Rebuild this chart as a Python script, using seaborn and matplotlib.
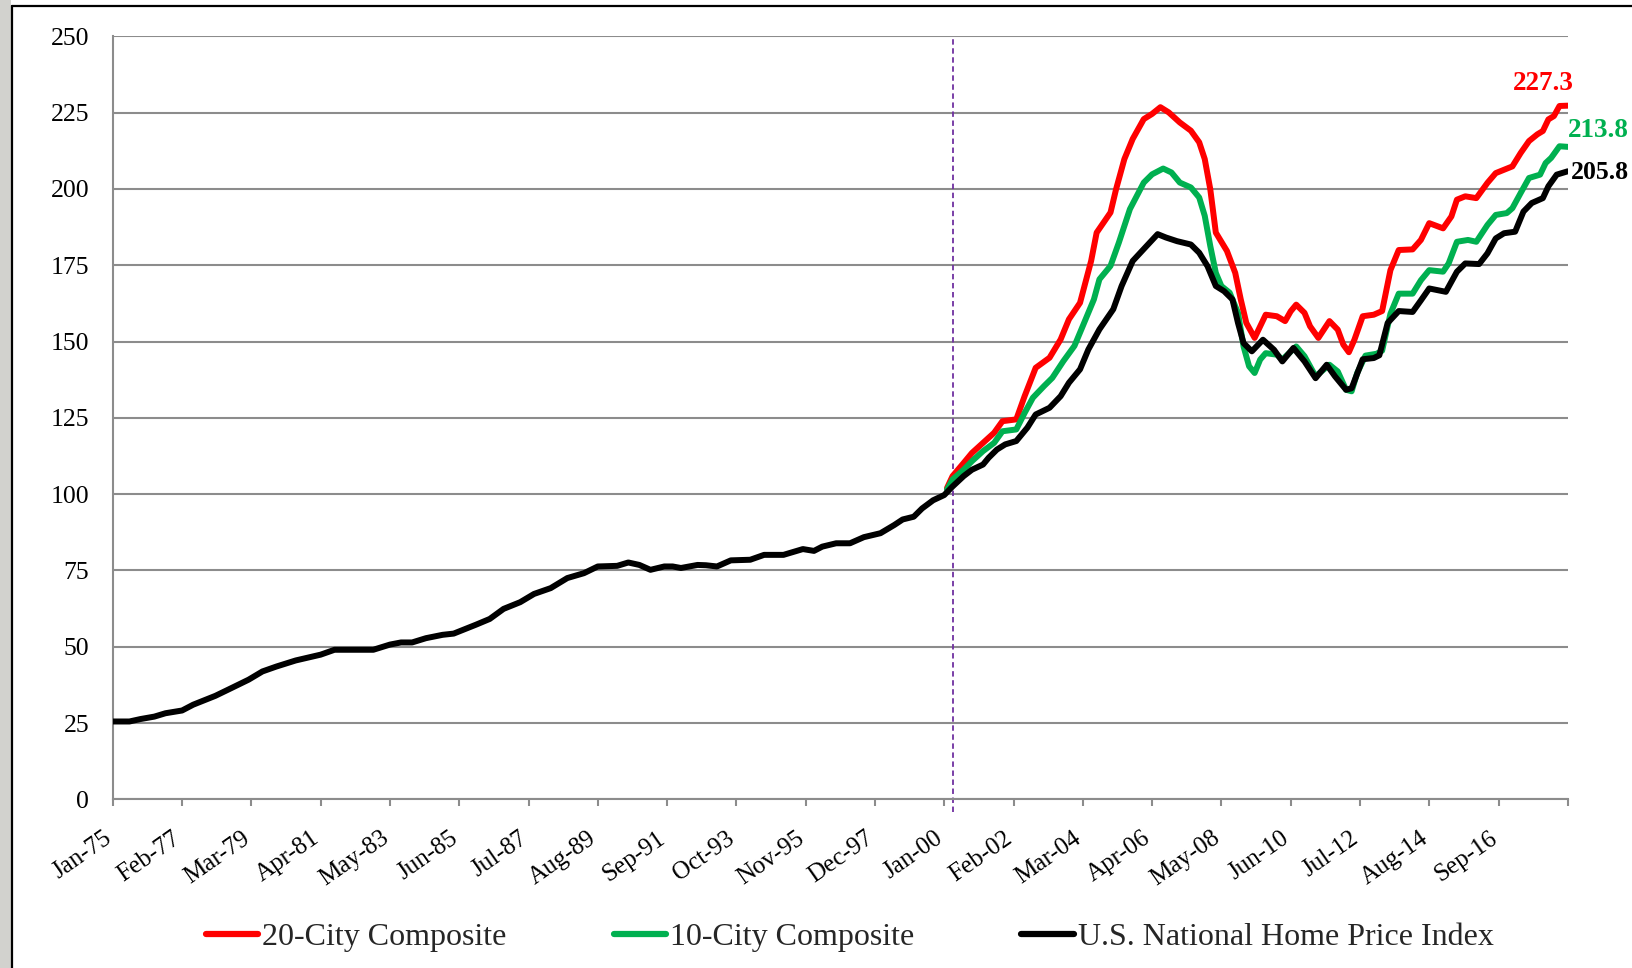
import matplotlib
matplotlib.use("Agg")
import matplotlib.pyplot as plt
import matplotlib.transforms as mtransforms
from matplotlib.lines import Line2D
from matplotlib.patches import Rectangle
import seaborn as sns

sns.set_theme(style="white")
plt.rcParams["font.family"] = ["Liberation Serif", "DejaVu Serif"]

# Months counted from Jan-1975, index level (Jan-2000 = 100)
nat_month = [0, 6, 10, 15, 19, 25, 29, 37, 42, 49, 54, 59, 66, 75, 80, 94, 100, 104, 108,
             113, 119, 123, 131, 136, 141, 147, 152, 158, 164, 170, 175, 182, 186, 190, 194,
             199, 202, 205, 211, 214, 218, 223, 230, 235, 242, 249, 253, 256, 261, 266, 271,
             277, 282, 285, 289, 292, 296, 300, 303, 307, 310, 314, 316, 319, 322, 326, 330,
             333, 338, 342, 345, 349, 352, 356, 361, 364, 368, 373, 377, 380, 384, 389, 392,
             395, 398, 401, 404, 406, 408, 411, 415, 419, 422, 426, 430, 434, 438, 441, 445,
             447, 451, 455, 457, 460, 464, 469, 472, 475, 481, 485, 488, 493, 496, 499, 502,
             506, 509, 512, 516, 518, 521, 525]
nat_value = [25.5, 25.5, 26.3, 27.1, 28.2, 29.1, 31.0, 33.9, 36.1, 39.2, 41.9, 43.5, 45.5,
             47.4, 49.0, 49.0, 50.7, 51.4, 51.4, 52.8, 53.9, 54.3, 57.2, 59.1, 62.4, 64.6,
             67.3, 69.2, 72.5, 74.1, 76.3, 76.5, 77.6, 76.8, 75.2, 76.3, 76.3, 75.8, 76.8,
             76.7, 76.3, 78.3, 78.5, 80.1, 80.1, 82.0, 81.4, 82.8, 83.9, 83.9, 85.9, 87.2,
             89.9, 91.7, 92.6, 95.3, 98.0, 99.7, 102.5, 105.9, 108.0, 109.7, 111.9, 114.6,
             116.3, 117.4, 121.8, 126.1, 128.3, 132.1, 136.5, 140.9, 147.4, 154.0, 160.6,
             168.2, 176.4, 181.3, 185.2, 184.1, 182.9, 181.8, 179.1, 174.7, 168.2, 166.5,
             163.8, 156.1, 149.5, 146.8, 150.6, 147.3, 143.5, 147.9, 143.5, 138.0, 142.4,
             138.6, 134.2, 134.7, 144.2, 144.6, 145.5, 156.1, 160.0, 159.7, 163.5, 167.4,
             166.3, 172.9, 175.6, 175.4, 178.9, 183.8, 185.5, 186.0, 192.6, 195.4, 197.0,
             200.9, 204.7, 205.8]

c20_month = [301, 303, 307, 310, 314, 318, 321, 326, 329, 333, 338, 342, 345, 349, 353, 355,
             360, 362, 365, 368, 372, 375, 378, 381, 385, 389, 392, 394, 396, 398, 402, 405,
             407, 409, 412, 414, 416, 420, 423, 425, 427, 430, 432, 435, 439, 442, 444, 446,
             448, 451, 455, 458, 461, 464, 469, 472, 475, 480, 483, 485, 488, 492, 496, 499,
             502, 505, 508, 511, 514, 516, 518, 520, 522, 525]
c20_value = [102.0, 105.9, 110.2, 113.5, 116.8, 120.1, 123.9, 124.5, 132.1, 141.4, 144.7,
             150.7, 157.3, 162.7, 176.4, 185.7, 192.3, 199.9, 209.8, 216.4, 222.9, 224.6,
             226.8, 225.1, 221.8, 219.1, 215.3, 209.8, 199.9, 185.7, 179.7, 172.5, 163.8,
             156.1, 151.2, 155.0, 158.8, 158.3, 156.7, 159.9, 162.1, 159.4, 155.0, 151.2,
             156.7, 153.9, 149.0, 146.5, 150.6, 158.3, 158.8, 160.0, 173.4, 180.0, 180.2,
             183.3, 188.8, 187.1, 191.0, 196.5, 197.6, 197.0, 202.0, 205.2, 206.3, 207.4,
             211.8, 215.7, 217.9, 219.0, 222.8, 223.9, 227.2, 227.3]

c10_month = [301, 303, 307, 310, 314, 318, 321, 326, 329, 332, 336, 339, 343, 347, 350, 354,
             356, 360, 363, 367, 372, 375, 379, 382, 385, 389, 392, 394, 396, 398, 400, 403,
             406, 408, 410, 412, 414, 416, 420, 422, 427, 430, 434, 439, 442, 445, 447, 449,
             452, 456, 458, 461, 464, 469, 472, 475, 480, 482, 485, 489, 492, 496, 499, 503,
             505, 508, 511, 515, 517, 519, 522, 525]
c10_value = [101.5, 104.8, 108.0, 110.8, 114.1, 116.8, 120.6, 121.2, 126.6, 131.6, 135.4,
             138.1, 143.6, 148.6, 155.1, 163.8, 170.4, 174.8, 182.4, 193.4, 202.1, 204.8,
             206.7, 205.4, 202.1, 200.5, 197.2, 191.2, 181.3, 172.5, 168.2, 166.0, 159.4,
             148.4, 141.9, 139.7, 144.1, 146.2, 145.7, 144.1, 148.4, 145.2, 138.6, 142.4,
             140.2, 134.2, 133.7, 139.7, 145.4, 146.0, 147.0, 159.1, 165.7, 165.7, 170.1,
             173.4, 172.9, 175.6, 182.7, 183.3, 182.7, 188.2, 191.5, 192.1, 193.7, 198.7,
             203.6, 204.7, 208.5, 210.2, 214.0, 213.8]

tick_labels = ["Jan-75", "Feb-77", "Mar-79", "Apr-81", "May-83", "Jun-85", "Jul-87",
               "Aug-89", "Sep-91", "Oct-93", "Nov-95", "Dec-97", "Jan-00", "Feb-02",
               "Mar-04", "Apr-06", "May-08", "Jun-10", "Jul-12", "Aug-14", "Sep-16"]
tick_step = 25
axis_end = 525
break_month = 303

series_names = ["20-City Composite", "10-City Composite", "U.S. National Home Price Index"]
series_colors = ["#ff0000", "#00b050", "#000000"]

W, H, DPI = 1632, 968, 100
fig = plt.figure(figsize=(W / DPI, H / DPI), dpi=DPI)
fig.patch.set_facecolor("white")

# page frame: grey strip on the far left, black rule at left and top
fig.add_artist(Rectangle((0, 0), 11 / W, 1, transform=fig.transFigure,
                         facecolor="#d2d2ce", edgecolor="none", zorder=0))
fig.add_artist(Line2D([12 / W, 12 / W], [0, 1 - 6 / H], transform=fig.transFigure,
                      color="black", lw=1.6))
fig.add_artist(Line2D([12 / W, 1], [1 - 6 / H, 1 - 6 / H], transform=fig.transFigure,
                      color="black", lw=1.6))

left, right, bottom, top = 112.8 / W, 1567.8 / W, 1 - 799.3 / H, 1 - 36.4 / H
ax = fig.add_axes([left, bottom, right - left, top - bottom])
ax.set_facecolor("white")

grid_col = "#8c8c8c"
ax.set_ylim(0, 250)
ax.set_xlim(0, axis_end)
ax.set_yticks(range(0, 251, 25))
ax.yaxis.grid(True, color=grid_col, lw=1.5)
ax.xaxis.grid(False)
ax.set_axisbelow(True)
for side in ("top", "right"):
    ax.spines[side].set_visible(False)
for side in ("left", "bottom"):
    ax.spines[side].set_color(grid_col)
    ax.spines[side].set_linewidth(1.5)

ax.axvline(break_month, ymin=-0.017, ymax=1, clip_on=False, color="#7030a0",
           lw=1.3, ls=(0, (3, 2)), zorder=1)

lw = 4.3
for xs, ys, c in [(c20_month, c20_value, series_colors[0]),
                  (c10_month, c10_value, series_colors[1]),
                  (nat_month, nat_value, series_colors[2])]:
    sns.lineplot(x=xs, y=ys, color=c, lw=lw, ax=ax, estimator=None, sort=False,
                 solid_joinstyle="round", solid_capstyle="round", zorder=3)

xt = list(range(0, axis_end + 1, tick_step))
ax.set_xticks(xt)
ax.set_xticklabels(tick_labels + [""] * (len(xt) - len(tick_labels)))
ax.tick_params(axis="y", direction="out", length=5, width=1.5, color=grid_col,
               pad=12, labelsize=18.5, labelcolor="black")
ax.tick_params(axis="x", direction="out", length=5, width=1.5, color=grid_col,
               pad=15, labelsize=18, labelcolor="black", bottom=True)
shift = mtransforms.ScaledTranslation(-10 / DPI, 0, fig.dpi_scale_trans)
for lab in ax.get_xticklabels():
    lab.set_rotation(35)
    lab.set_ha("right")
    lab.set_va("top")
    lab.set_rotation_mode("anchor")
    lab.set_transform(lab.get_transform() + shift)
ax.set_xlabel("")
ax.set_ylabel("")

# end-of-series value labels
ends = [(c20_month[-1], c20_value[-1], series_colors[0], (-24, 22), "center", 19.5),
        (c10_month[-1], c10_value[-1], series_colors[1], (31, 16), "center", 19.5),
        (nat_month[-1], nat_value[-1], series_colors[2], (3, -1), "left", 18.5)]
for xm, yv, c, off, ha, fs in ends:
    ax.annotate(f"{yv:.1f}", xy=(xm, yv), xytext=off, textcoords="offset pixels",
                ha=ha, va="center", fontsize=fs, fontweight="bold", color=c,
                annotation_clip=False)

handles = [Line2D([], [], color=c, lw=4.5, solid_capstyle="round") for c in series_colors]
fig.legend(handles, series_names, loc="center", bbox_to_anchor=(0.5207, 0.032), ncol=3,
           frameon=False, fontsize=23, handlelength=1.65, handletextpad=0.12,
           columnspacing=3.35)

fig.savefig("out.png", dpi=DPI, facecolor="white")
